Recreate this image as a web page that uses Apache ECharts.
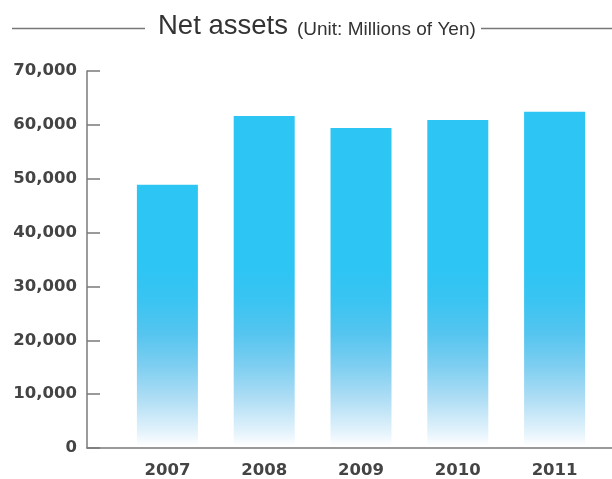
<!DOCTYPE html>
<html>
<head>
<meta charset="utf-8">
<script src="https://cdn.jsdelivr.net/npm/echarts@6/dist/echarts.min.js"></script>
<style>html,body{margin:0;padding:0;background:#fff}#c{width:612px;height:479px}</style>
</head>
<body>
<div id="c"></div>
<script>
const titleMain = 'Net assets';
const titleUnit = '(Unit: Millions of Yen)';
const years = ['2007', '2008', '2009', '2010', '2011'];
const netAssets = [48800, 61600, 59400, 60900, 62400];
const yMin = 0, yMax = 70000, yStep = 10000;

const chart = echarts.init(document.getElementById('c'), null, {renderer: 'canvas'});
const labelFont = {fontFamily: 'DejaVu Sans', fontWeight: 'bold', fontSize: 16.5, color: '#444'};
const grad = {
  type: 'linear', x: 0, y: 268, x2: 0, y2: 446, global: true,
  colorStops: [
    {offset: 0, color: '#2DC5F4'},
    {offset: 0.18, color: '#3AC4F2'},
    {offset: 0.37, color: '#55C5EF'},
    {offset: 0.56, color: '#80CFF1'},
    {offset: 0.74, color: '#B0DEF5'},
    {offset: 0.93, color: '#E6F4FC'},
    {offset: 1, color: '#FFFFFF'}
  ]
};
chart.setOption({
  animation: false,
  title: [
    {text: titleMain, left: 158, top: 12, padding: 0,
      textStyle: {fontFamily: 'Liberation Sans', fontSize: 27.5, color: '#333', fontWeight: 'normal'}},
    {text: titleUnit, left: 297, top: 20, padding: 0,
      textStyle: {fontFamily: 'Liberation Sans', fontSize: 19, color: '#333', fontWeight: 'normal'}}
  ],
  graphic: [
    {type: 'line', shape: {x1: 12, y1: 28.5, x2: 145, y2: 28.5}, style: {stroke: '#777', lineWidth: 1.5}},
    {type: 'line', shape: {x1: 481, y1: 28.5, x2: 612, y2: 28.5}, style: {stroke: '#777', lineWidth: 1.5}}
  ],
  grid: [
    {left: 87, right: 0, top: 71, bottom: 31},
    {left: 119, right: 9, top: 71, bottom: 31}
  ],
  xAxis: [
    {gridIndex: 0, type: 'value', min: 0, max: 1, show: true,
      axisLine: {show: true, lineStyle: {color: '#7a7a7a', width: 1.5}},
      axisTick: {show: false}, axisLabel: {show: false}, splitLine: {show: false}},
    {gridIndex: 1, type: 'category', data: years,
      axisLine: {show: false}, axisTick: {show: false},
      axisLabel: Object.assign({margin: 15}, labelFont)}
  ],
  yAxis: [
    {gridIndex: 0, type: 'value', min: yMin, max: yMax, interval: yStep,
      axisLine: {show: true, lineStyle: {color: '#7a7a7a', width: 1.5}},
      axisTick: {show: true, inside: true, length: 13, lineStyle: {color: '#7a7a7a', width: 1.5}},
      splitLine: {show: false},
      axisLabel: Object.assign({margin: 10, formatter: v => v.toLocaleString('en-US')}, labelFont)},
    {gridIndex: 1, type: 'value', min: yMin, max: yMax, interval: yStep, show: false}
  ],
  series: [{
    type: 'bar', xAxisIndex: 1, yAxisIndex: 1, data: netAssets, barWidth: 61,
    itemStyle: {color: grad}
  }]
});
</script>
</body>
</html>
